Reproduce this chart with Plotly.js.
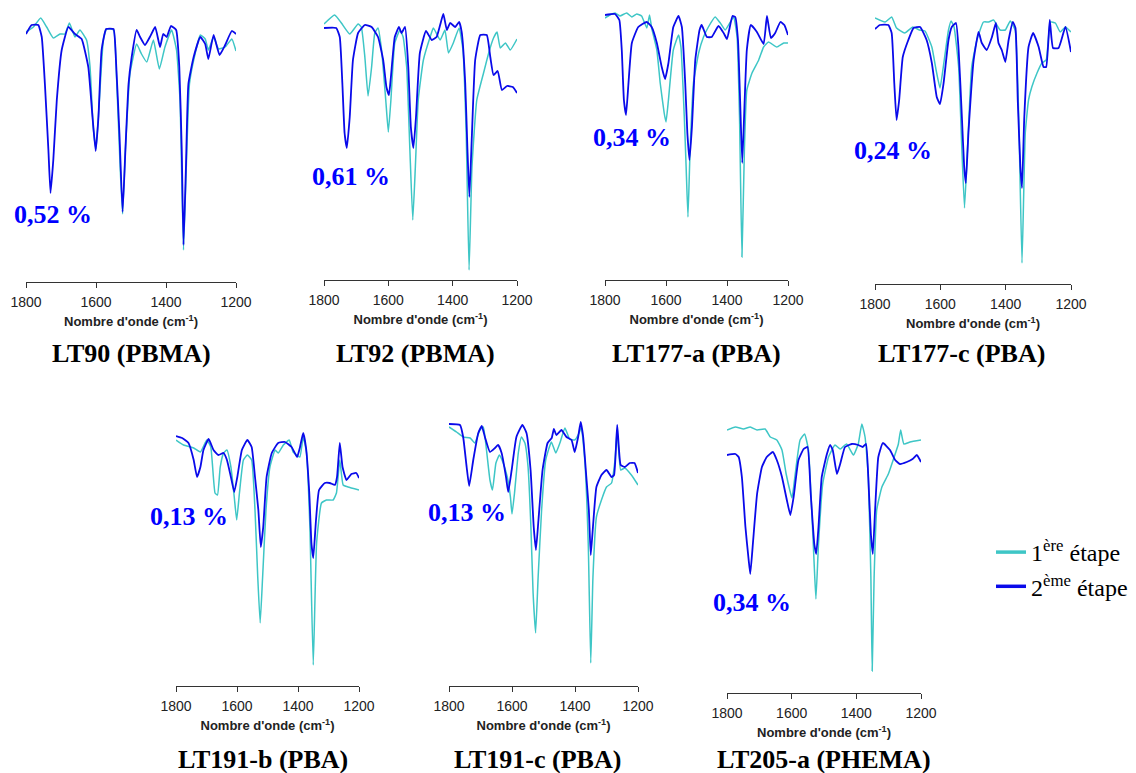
<!DOCTYPE html>
<html><head><meta charset="utf-8">
<script src="https://cdn.plot.ly/plotly-3.0.1.min.js"></script>
<style>html,body{margin:0;padding:0;background:#fff}#chart{width:1136px;height:773px}</style>
</head><body><div id="chart"></div><script>
// ---------- DATA (wavenumber in cm-1, transmittance in arbitrary units) ----------
const sampleNames = ['LT90 (PBMA)', 'LT92 (PBMA)', 'LT177-a (PBA)', 'LT177-c (PBA)', 'LT191-b (PBA)', 'LT191-c (PBA)', 'LT205-a (PHEMA)'];
const percentLabels = ['0,52 %', '0,61 %', '0,34 %', '0,24 %', '0,13 %', '0,13 %', '0,34 %'];
const stageNames = ['1<sup>ère</sup> étape', '2<sup>ème</sup> étape'];
const xTickValues = [1800, 1600, 1400, 1200];
const xTitle = "<b>Nombre d'onde (cm<sup>-1</sup>)</b>";

const LT90_e1_wn = [1800,1779,1758,1741,1722,1703,1689,1676,1660,1646,1627,1617,1608,1600,1592,1579,1570,1550,1541,1531,1524,1516,1503,1484,1470,1455,1436,1419,1403,1384,1370,1360,1350,1342,1333,1317,1302,1288,1279,1264,1250,1231,1212,1200];
const LT90_e1_T  = [250,255,264,255,244,248,248,259,245,252,242,215,155,133,172,242,253,252,202,115,68,132,208,238,228,220,242,213,235,252,232,182,32,115,198,228,247,243,232,245,233,235,243,231];
const LT90_e2_wn = [1800,1784,1765,1755,1746,1736,1730,1722,1712,1698,1679,1660,1641,1622,1610,1601,1593,1584,1571,1550,1543,1533,1524,1516,1507,1498,1484,1474,1460,1446,1431,1417,1408,1398,1386,1371,1362,1355,1350,1343,1336,1321,1302,1288,1279,1264,1247,1231,1212,1200];
const LT90_e2_T  = [248,257,257,245,198,132,89,122,182,232,255,248,243,215,165,131,165,232,253,253,222,148,70,132,198,225,252,245,237,245,255,235,248,245,256,252,215,132,37,115,198,225,245,238,223,247,227,237,251,248];

const LT92_e1_wn = [1800,1767,1746,1720,1694,1684,1673,1663,1652,1642,1632,1621,1608,1600,1592,1580,1564,1554,1543,1533,1524,1516,1507,1491,1470,1460,1439,1424,1413,1398,1380,1368,1358,1349,1340,1325,1304,1288,1273,1262,1252,1236,1221,1200];
const LT92_e1_T  = [256,265,257,246,256,253,223,184,213,247,252,230,180,148,180,237,250,243,213,130,60,113,180,220,243,252,240,250,227,237,252,230,147,10,113,180,207,227,242,248,232,237,230,241];
const LT92_e2_wn = [1800,1762,1751,1743,1736,1729,1720,1710,1694,1673,1652,1632,1616,1606,1598,1592,1580,1567,1559,1548,1538,1530,1522,1514,1502,1483,1465,1450,1439,1429,1418,1408,1392,1380,1372,1361,1354,1348,1340,1330,1314,1294,1283,1273,1260,1247,1231,1213,1200];
const LT92_e2_T  = [252,252,243,197,147,132,163,220,247,255,253,243,220,193,185,203,243,253,247,253,213,153,132,163,227,249,240,243,255,266,250,257,253,258,248,197,130,83,147,220,245,245,223,205,209,190,194,193,187];

const LT177a_e1_wn = [1800,1784,1767,1751,1729,1712,1696,1680,1663,1654,1647,1630,1619,1606,1600,1592,1576,1559,1551,1540,1534,1528,1521,1510,1493,1477,1461,1439,1422,1406,1389,1378,1367,1359,1351,1343,1335,1318,1296,1280,1264,1237,1214,1200];
const LT177a_e1_T  = [262,265,267,264,267,263,266,264,252,265,252,230,197,167,158,180,230,245,233,163,113,63,130,197,227,243,253,263,257,250,258,263,243,163,23,130,190,207,220,233,238,233,237,237];
const LT177a_e2_wn = [1800,1767,1753,1745,1738,1731,1723,1712,1691,1663,1647,1630,1614,1603,1592,1576,1559,1548,1537,1530,1523,1515,1504,1490,1483,1466,1450,1428,1411,1400,1382,1373,1364,1357,1350,1342,1335,1322,1302,1280,1269,1256,1242,1225,1212,1200];
const LT177a_e2_T  = [265,266,260,230,180,165,197,237,253,258,253,237,213,201,217,253,264,253,197,147,120,153,220,250,255,243,243,254,247,241,264,263,240,180,117,180,230,255,248,236,264,242,247,258,255,245];

const LT177c_e1_wn = [1800,1769,1749,1734,1709,1684,1664,1647,1626,1613,1601,1588,1575,1567,1558,1544,1534,1526,1517,1504,1488,1468,1452,1437,1417,1401,1386,1371,1360,1350,1340,1330,1320,1304,1289,1276,1263,1248,1233,1217,1200];
const LT177c_e1_T  = [266,262,267,256,251,257,254,253,237,214,196,224,254,263,257,217,134,76,134,217,244,262,262,264,254,254,263,254,167,21,151,184,197,211,221,224,262,261,252,257,252];
const LT177c_e2_wn = [1800,1785,1759,1749,1741,1734,1726,1715,1698,1682,1662,1642,1626,1611,1601,1590,1575,1565,1552,1544,1534,1527,1522,1514,1498,1483,1473,1458,1442,1430,1422,1412,1401,1391,1378,1370,1363,1355,1350,1343,1330,1316,1299,1284,1276,1265,1255,1238,1217,1200];
const LT177c_e2_T  = [255,259,259,251,201,164,184,227,244,256,257,244,221,187,180,201,244,257,261,234,167,117,101,151,224,252,241,234,247,261,241,234,222,244,262,256,184,117,96,167,237,251,237,217,217,264,236,236,257,232];

const LT191b_e1_wn = [1800,1775,1742,1720,1699,1686,1672,1664,1655,1644,1633,1620,1609,1601,1592,1579,1566,1552,1541,1532,1524,1516,1505,1492,1475,1465,1448,1429,1416,1394,1383,1372,1361,1350,1339,1323,1307,1285,1274,1263,1252,1236,1200];
const LT191b_e1_T  = [246,241,238,234,246,239,193,191,219,233,236,219,189,166,193,226,231,226,176,109,63,109,176,219,236,233,241,246,234,229,249,233,159,21,143,183,186,186,193,226,201,199,196];
const LT191b_e2_wn = [1800,1780,1759,1742,1731,1720,1710,1693,1677,1661,1644,1633,1620,1609,1599,1584,1566,1552,1541,1530,1522,1514,1503,1486,1465,1443,1421,1403,1394,1383,1374,1363,1356,1350,1341,1331,1312,1296,1279,1272,1263,1254,1241,1225,1209,1200];
const LT191b_e2_T  = [250,248,243,226,209,219,236,247,236,231,233,226,209,194,209,236,246,239,209,176,139,159,209,233,243,244,239,229,238,253,239,193,143,128,166,196,203,203,201,209,243,219,206,212,213,208];

const LT191c_e1_wn = [1800,1776,1755,1733,1718,1702,1691,1681,1670,1662,1651,1640,1628,1615,1605,1600,1592,1580,1570,1559,1549,1540,1533,1525,1517,1506,1493,1475,1461,1448,1432,1417,1401,1387,1380,1369,1358,1350,1343,1332,1316,1300,1284,1273,1266,1255,1242,1221,1200];
const LT191c_e1_T  = [259,254,249,248,243,256,259,236,206,196,223,231,223,209,189,172,193,233,249,243,219,159,93,53,109,176,226,244,233,243,258,247,246,253,259,226,143,23,109,169,186,199,203,226,256,216,218,211,201];
const LT191c_e2_wn = [1800,1765,1755,1744,1736,1723,1707,1696,1686,1670,1654,1644,1633,1619,1612,1601,1586,1567,1554,1541,1531,1524,1516,1503,1487,1474,1467,1459,1443,1427,1411,1401,1390,1382,1374,1364,1356,1350,1343,1332,1316,1300,1284,1276,1266,1255,1242,1226,1211,1200];
const LT191c_e2_T  = [262,261,249,219,200,226,253,260,249,234,238,241,233,209,194,216,249,261,253,216,159,136,166,216,243,248,257,251,256,249,246,234,249,264,249,209,176,131,159,199,211,216,209,211,261,221,219,223,223,213];

const LT205a_e1_wn = [1800,1774,1749,1728,1707,1682,1666,1646,1630,1617,1606,1599,1589,1574,1560,1548,1538,1530,1525,1517,1504,1486,1466,1450,1430,1409,1394,1383,1373,1363,1355,1351,1345,1337,1321,1301,1283,1270,1263,1253,1234,1200];
const LT205a_e1_T  = [263,266,264,266,263,264,256,253,243,219,203,195,219,253,259,243,183,126,94,149,209,236,248,244,249,238,249,269,256,216,116,22,116,183,206,219,236,249,263,249,251,253];
const LT205a_e2_wn = [1800,1774,1764,1754,1743,1733,1728,1720,1707,1692,1677,1658,1646,1630,1615,1604,1594,1579,1563,1551,1541,1530,1524,1517,1507,1491,1481,1473,1460,1450,1435,1414,1394,1380,1370,1363,1355,1349,1342,1332,1318,1296,1280,1265,1244,1226,1213,1200];
const LT205a_e2_T  = [238,239,236,216,166,133,119,149,199,226,236,241,233,216,193,178,196,233,244,246,199,149,139,166,216,239,248,243,219,229,246,249,248,246,249,216,159,139,183,236,250,243,233,229,231,234,238,231];

const spectra = [
  [LT90_e1_wn, LT90_e1_T, LT90_e2_wn, LT90_e2_T],
  [LT92_e1_wn, LT92_e1_T, LT92_e2_wn, LT92_e2_T],
  [LT177a_e1_wn, LT177a_e1_T, LT177a_e2_wn, LT177a_e2_T],
  [LT177c_e1_wn, LT177c_e1_T, LT177c_e2_wn, LT177c_e2_T],
  [LT191b_e1_wn, LT191b_e1_T, LT191b_e2_wn, LT191b_e2_T],
  [LT191c_e1_wn, LT191c_e1_T, LT191c_e2_wn, LT191c_e2_T],
  [LT205a_e1_wn, LT205a_e1_T, LT205a_e2_wn, LT205a_e2_T]
];

// ---------- LAYOUT GEOMETRY (pixels) & STYLES ----------
const W = 1136, H = 773, PLOT_H = 275;
const geom = [
  {x0: 26,  x1: 236,  axisY: 282, titleX: 131, titleY: 353, pctX: 53,  pctY: 215},
  {x0: 324, x1: 517,  axisY: 280, titleX: 415, titleY: 353, pctX: 351, pctY: 177},
  {x0: 605, x1: 788,  axisY: 280, titleX: 696, titleY: 353, pctX: 632, pctY: 137},
  {x0: 875, x1: 1071, axisY: 284, titleX: 961, titleY: 353, pctX: 893, pctY: 150},
  {x0: 176, x1: 359,  axisY: 686, titleX: 263, titleY: 759, pctX: 189, pctY: 516},
  {x0: 449, x1: 638,  axisY: 686, titleX: 537, titleY: 759, pctX: 467, pctY: 512},
  {x0: 727, x1: 921,  axisY: 693, titleX: 824, titleY: 759, pctX: 752, pctY: 602}
];
const CYAN = '#3ec6c6', BLUE = '#0a0aea';
const SERIF = '"Liberation Serif", "Times New Roman", serif';
const SANS = '"Liberation Sans", Arial, sans-serif';

const traces = [];
const layout = {
  width: W, height: H,
  margin: {l: 0, r: 0, t: 0, b: 0},
  paper_bgcolor: '#fff', plot_bgcolor: 'rgba(0,0,0,0)',
  showlegend: true,
  legend: {
    x: 991 / W, xanchor: 'left', y: 1 - 530 / H, yanchor: 'top',
    font: {family: SERIF, size: 24, color: '#000'},
    bgcolor: 'rgba(0,0,0,0)', itemwidth: 30, tracegroupgap: 0
  },
  annotations: []
};

spectra.forEach((s, i) => {
  const n = i === 0 ? '' : String(i + 1);
  const g = geom[i];
  traces.push({x: s[0], y: s[1], type: 'scatter', mode: 'lines', xaxis: 'x' + n, yaxis: 'y' + n,
    line: {color: CYAN, width: 1.5, shape: 'spline', smoothing: 0.4}, showlegend: false, name: stageNames[0], hoverinfo: 'skip'});
  traces.push({x: s[2], y: s[3], type: 'scatter', mode: 'lines', xaxis: 'x' + n, yaxis: 'y' + n,
    line: {color: BLUE, width: 1.8, shape: 'spline', smoothing: 0.4}, showlegend: false, name: stageNames[1], hoverinfo: 'skip'});
  layout['xaxis' + n] = {
    domain: [g.x0 / W, g.x1 / W], anchor: 'y' + n, range: [1800, 1200],
    tickmode: 'array', tickvals: xTickValues, ticktext: xTickValues.map(String),
    ticks: 'outside', ticklen: 5, tickwidth: 1, tickcolor: '#333', ticklabelstandoff: 2,
    showline: true, linecolor: '#333', linewidth: 1,
    showgrid: false, zeroline: false, fixedrange: true,
    tickfont: {family: SANS, size: 14, color: '#222'},
    title: {text: xTitle, font: {family: SANS, size: 13, color: '#222'}, standoff: 8}
  };
  layout['yaxis' + n] = {
    domain: [1 - g.axisY / H, 1 - (g.axisY - PLOT_H) / H], anchor: 'x' + n,
    range: [0, PLOT_H], visible: false, fixedrange: true
  };
  layout.annotations.push({
    text: '<b>' + sampleNames[i] + '</b>', xref: 'paper', yref: 'paper',
    x: g.titleX / W, y: 1 - g.titleY / H, xanchor: 'center', yanchor: 'middle',
    showarrow: false, font: {family: SERIF, size: 26, color: '#000'}
  });
  layout.annotations.push({
    text: '<b>' + percentLabels[i] + '</b>', xref: 'paper', yref: 'paper',
    x: g.pctX / W, y: 1 - g.pctY / H, xanchor: 'center', yanchor: 'middle',
    showarrow: false, font: {family: SERIF, size: 26, color: '#0000ff'}
  });
});

// legend entries (stage colours)
traces.push({x: [null], y: [null], type: 'scatter', mode: 'lines', name: stageNames[0], line: {color: CYAN, width: 3.5}, hoverinfo: 'skip'});
traces.push({x: [null], y: [null], type: 'scatter', mode: 'lines', name: stageNames[1], line: {color: BLUE, width: 3.5}, hoverinfo: 'skip'});

Plotly.newPlot('chart', traces, layout, {staticPlot: true, displayModeBar: false});
</script></body></html>
